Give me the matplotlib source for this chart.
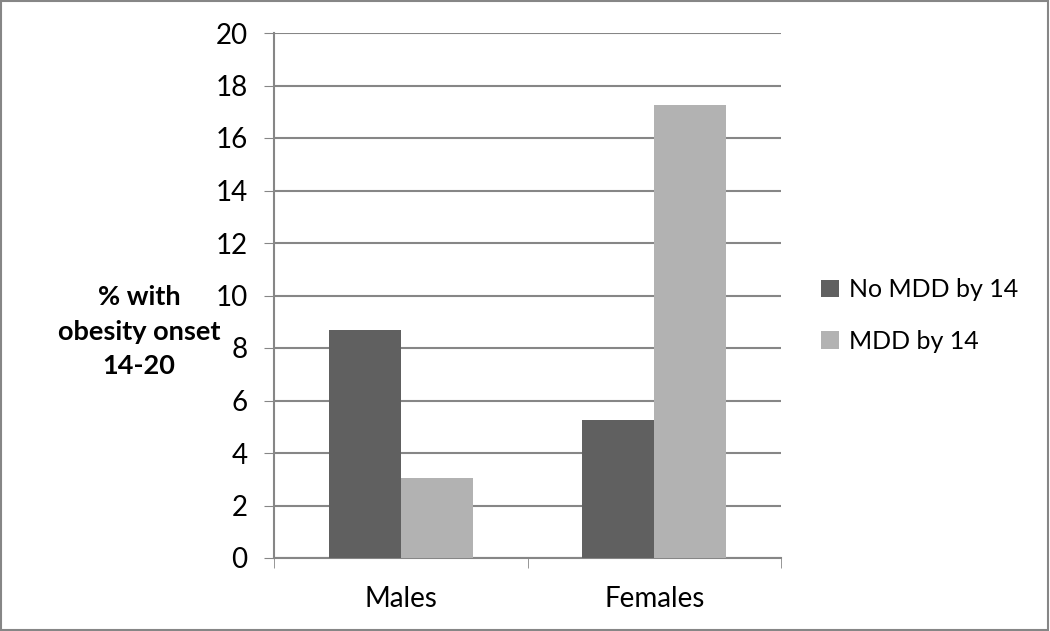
import matplotlib.pyplot as plt
import numpy as np

# Data
categories = ["Males", "Females"]
series_names = ["No MDD by 14", "MDD by 14"]
no_mdd = [8.7, 5.25]
mdd = [3.05, 17.25]
colors = ["#606060", "#b2b2b2"]
ylabel_lines = ["% with", "obesity onset", "14-20"]


def main():
    plt.rcParams['font.family'] = ['Lato', 'DejaVu Sans']
    fig = plt.figure(figsize=(10.5, 6.31), dpi=100)
    ax = fig.add_axes([274 / 1050, 1 - 558 / 631, (781 - 274) / 1050, (558 - 33) / 631])

    x = np.arange(len(categories))
    w = 0.285
    ax.bar(x - w / 2, no_mdd, width=w, color=colors[0], label=series_names[0], zorder=3)
    ax.bar(x + w / 2, mdd, width=w, color=colors[1], label=series_names[1], zorder=3)

    ax.set_xlim(-0.5, 1.5)
    ax.set_ylim(0, 20)
    ax.set_yticks(range(0, 21, 2))
    ax.set_xticks(x)
    ax.set_xticklabels(categories)
    ax.set_xticks([-0.5, 0.5, 1.5], minor=True)
    ax.tick_params(axis='x', which='major', length=0, pad=20, labelsize=20)
    ax.tick_params(axis='x', which='minor', length=7, direction='out', color='#868686')
    ax.tick_params(axis='y', length=7, direction='out', color='#868686', labelsize=20, pad=12)

    ax.grid(axis='y', color='#868686', linewidth=1.5, zorder=0)
    for side in ['top', 'right']:
        ax.spines[side].set_visible(False)
    for side in ['left', 'bottom']:
        ax.spines[side].set_color('#868686')
        ax.spines[side].set_linewidth(1.5)

    # y label as three centred lines, placed left of the tick labels
    for line, ypix in zip(ylabel_lines, [297, 332, 366]):
        fig.text(139 / 1050, 1 - ypix / 631, line, ha='center', va='center',
                 fontsize=19.5, fontweight='bold')

    ax.legend(loc='center left', bbox_to_anchor=(1.035, 0.462), frameon=False, fontsize=18,
              handlelength=0.7, handleheight=0.7, handletextpad=0.4, labelspacing=1.15)

    # border around the figure
    fig.patches.append(plt.Rectangle((0.001, 0.002), 0.997, 0.996, transform=fig.transFigure,
                                     fill=False, edgecolor='#868686', linewidth=1.5))

    fig.savefig("out.png", dpi=100)


if __name__ == "__main__":
    main()
